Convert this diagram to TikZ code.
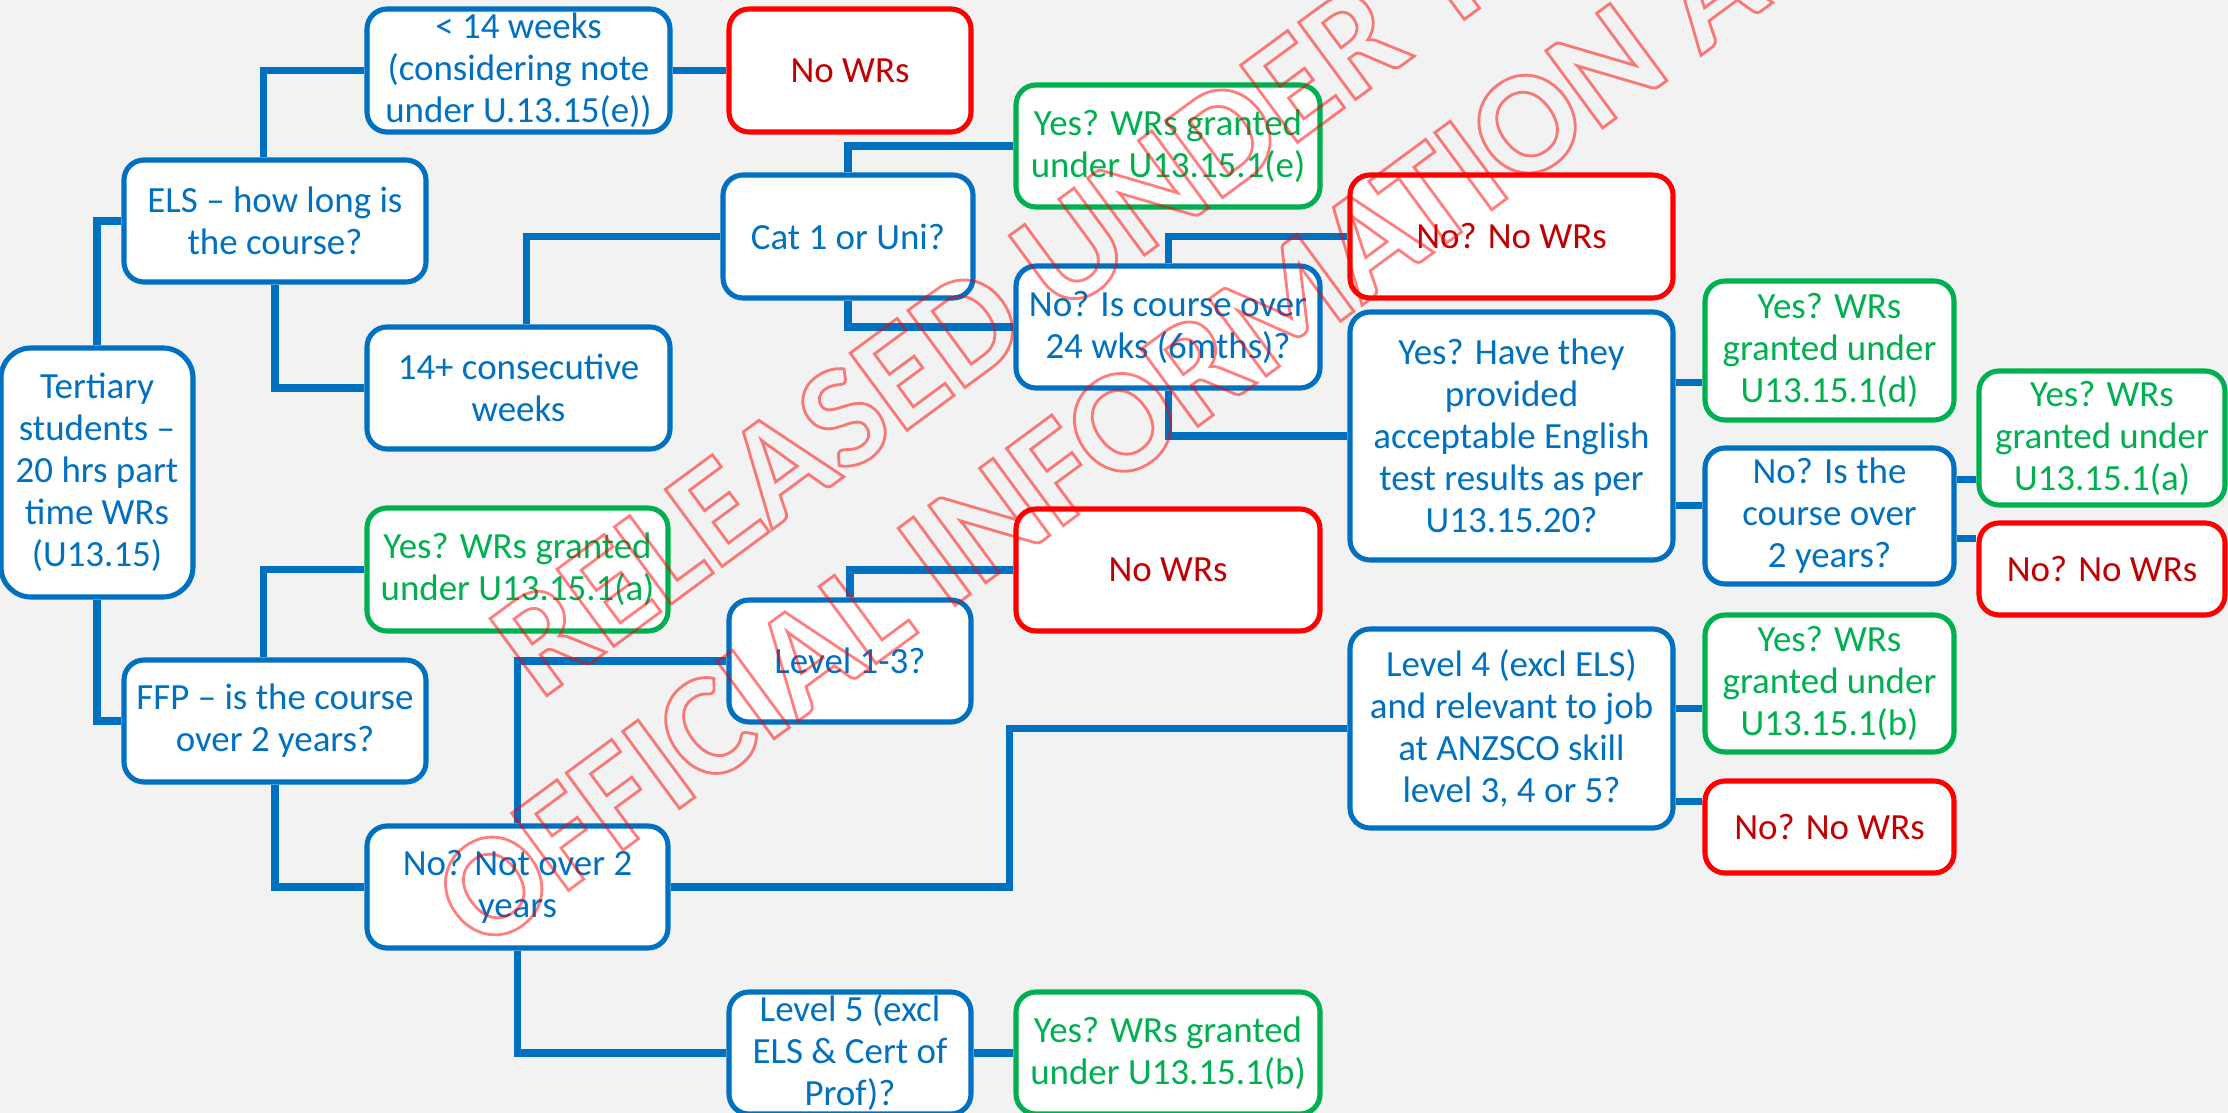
\documentclass[tikz,border=0pt]{standalone}
\usepackage{fontspec}
\setmainfont{Carlito}
\usetikzlibrary{calc}
\definecolor{wrblue}{RGB}{0,112,192}
\definecolor{wrgreen}{RGB}{0,176,80}
\definecolor{wrred}{RGB}{255,0,0}
\definecolor{wrdark}{RGB}{192,0,0}
\definecolor{wrback}{RGB}{242,242,242}
\def\boxline{1.45pt}
\def\linkline{2pt}
\pgfdeclarelayer{back}
\pgfsetlayers{back,main}

\begin{document}
\begin{tikzpicture}[x=0.01cm, y=-0.01cm,
    box/.style 2 args={draw=wrblue, fill=white, text=wrblue, line width=\boxline,
        rounded corners=0.2cm, align=center, inner sep=0pt,
        minimum width=#1*0.01cm, minimum height=#2*0.01cm,
        font=\fontsize{10.5}{11.95}\selectfont},
    yesbox/.style 2 args={box={#1}{#2}, draw=wrgreen, text=wrgreen},
    nobox/.style 2 args={box={#1}{#2}, draw=wrred, text=wrdark},
    link/.style={draw=wrblue, line width=\linkline}]

    \useasboundingbox (0,0) rectangle (2228,1113);
    \clip (0,0) rectangle (2228,1113);

    % first column
    \node[box={192}{249}, rounded corners=0.3cm] (tert) at (97,472.5) {Tertiary\\students –\\20 hrs part\\time WRs\\(U13.15)};
    \node[box={302}{122}] (els) at (275,221) {ELS – how long is\\the course?};
    \node[box={302}{122}] (ffp) at (275,721) {FFP – is the course\\over 2 years?};

    % second column
    \node[box={303}{123}] (under14) at (518.5,70.5) {< 14 weeks\\(considering note\\under U.13.15(e))};
    \node[box={303}{122}] (over14) at (518.5,388) {14+ consecutive\\weeks};
    \node[yesbox={301}{123}] (yesA1) at (517.5,569.5) {Yes? WRs granted\\under U13.15.1(a)};
    \node[box={301}{122}] (under2) at (517.5,887) {No? Not over 2\\years};

    % third column
    \node[nobox={242}{123}] (nowrA) at (850,70.5) {No WRs};
    \node[box={250}{123}] (cat) at (848,236.5) {Cat 1 or Uni?};
    \node[box={242}{122}] (lvlA) at (850,661) {Level 1-3?};
    \node[box={242}{122}] (lvlC) at (850,1053) {Level 5 (excl\\ELS \& Cert of\\Prof)?};

    % fourth column
    \node[yesbox={304}{122}] (yesE) at (1168,146) {Yes? WRs granted\\under U13.15.1(e)};
    \node[box={304}{122}] (over24) at (1168,327) {No? Is course over\\24 wks (6mths)?};
    \node[nobox={304}{122}] (nowrD) at (1168,570) {No WRs};
    \node[yesbox={304}{122}] (yesB1) at (1168,1053) {Yes? WRs granted\\under U13.15.1(b)};

    % fifth column
    \node[nobox={323}{123}] (nowrB) at (1511.5,236.5) {No? No WRs};
    \node[box={323}{248}] (english) at (1511.5,436) {Yes? Have they\\provided\\acceptable English\\test results as per\\U13.15.20?};
    \node[box={323}{199}] (lvlB) at (1511.5,728.5) {Level 4 (excl ELS)\\and relevant to job\\at ANZSCO skill\\level 3, 4 or 5?};

    % sixth and seventh columns
    \node[yesbox={249}{139}] (yesD) at (1829.5,350.5) {Yes? WRs\\granted under\\U13.15.1(d)};
    \node[box={249}{136}] (twoyr) at (1829.5,516) {No? Is the\\course over\\2 years?};
    \node[yesbox={249}{137}] (yesB2) at (1829.5,683.5) {Yes? WRs\\granted under\\U13.15.1(b)};
    \node[nobox={249}{92}] (nowrE) at (1829.5,827) {No? No WRs};
    \node[yesbox={246}{134}] (yesA2) at (2102,438) {Yes? WRs\\granted under\\U13.15.1(a)};
    \node[nobox={246}{92}] (nowrC) at (2102,569) {No? No WRs};

    \begin{pgfonlayer}{back}
        \fill[wrback] (0,0) rectangle (2228,1113);

        \draw[link] (tert.north) |- (els.west);
        \draw[link] (tert.south) |- (ffp.west);
        \draw[link] (els.100) |- (under14.west);
        \draw[link] (els.south) |- (over14.west);
        \draw[link] (under14.east) -- (nowrA.west);
        \draw[link] (over14.83) |- (cat.west);
        \draw[link] (cat.north) |- (yesE.west);
        \draw[link] (cat.south) |- (over24.west);
        \draw[link] (over24.north) |- (nowrB.west);
        \draw[link] (over24.south) |- (english.west);
        \draw[link] (english.18.5) -- (english.18.5 -| yesD.west);
        \draw[link] (english.-23) -- (english.-23 -| twoyr.west);
        \draw[link] (twoyr.16.5) -- (twoyr.16.5 -| yesA2.west);
        \draw[link] (twoyr.-10.5) -- (twoyr.-10.5 -| nowrC.west);

        \draw[link] (ffp.100) |- (yesA1.west);
        \draw[link] (ffp.south) |- (under2.west);
        \draw[link] (under2.north) |- (lvlA.west);
        \draw[link] (lvlA.north) |- (nowrD.west);
        \draw[link] (under2.east) -| ($(under2.east)!.5!(lvlB.west)$) |- (lvlB.west);
        \draw[link] (under2.south) |- (lvlC.west);
        \draw[link] (lvlC.east) -- (yesB1.west);
        \draw[link] (lvlB.7) -- (lvlB.7 -| yesB2.west);
        \draw[link] (lvlB.-24) -- (lvlB.-24 -| nowrE.west);
    \end{pgfonlayer}

    % stamp
    \begin{scope}[opacity=.5]
        \node[text=red, rotate=36.4, align=center, inner sep=0pt,
            font=\fontsize{42}{48.2}\selectfont\bfseries] (stamp) at (1109,327)
            {\special{pdf:literal direct 1 Tr 0.8 w}RELEASED UNDER THE\\OFFICIAL INFORMATION ACT\special{pdf:literal direct 0 Tr}};
    \end{scope}

\end{tikzpicture}
\end{document}
